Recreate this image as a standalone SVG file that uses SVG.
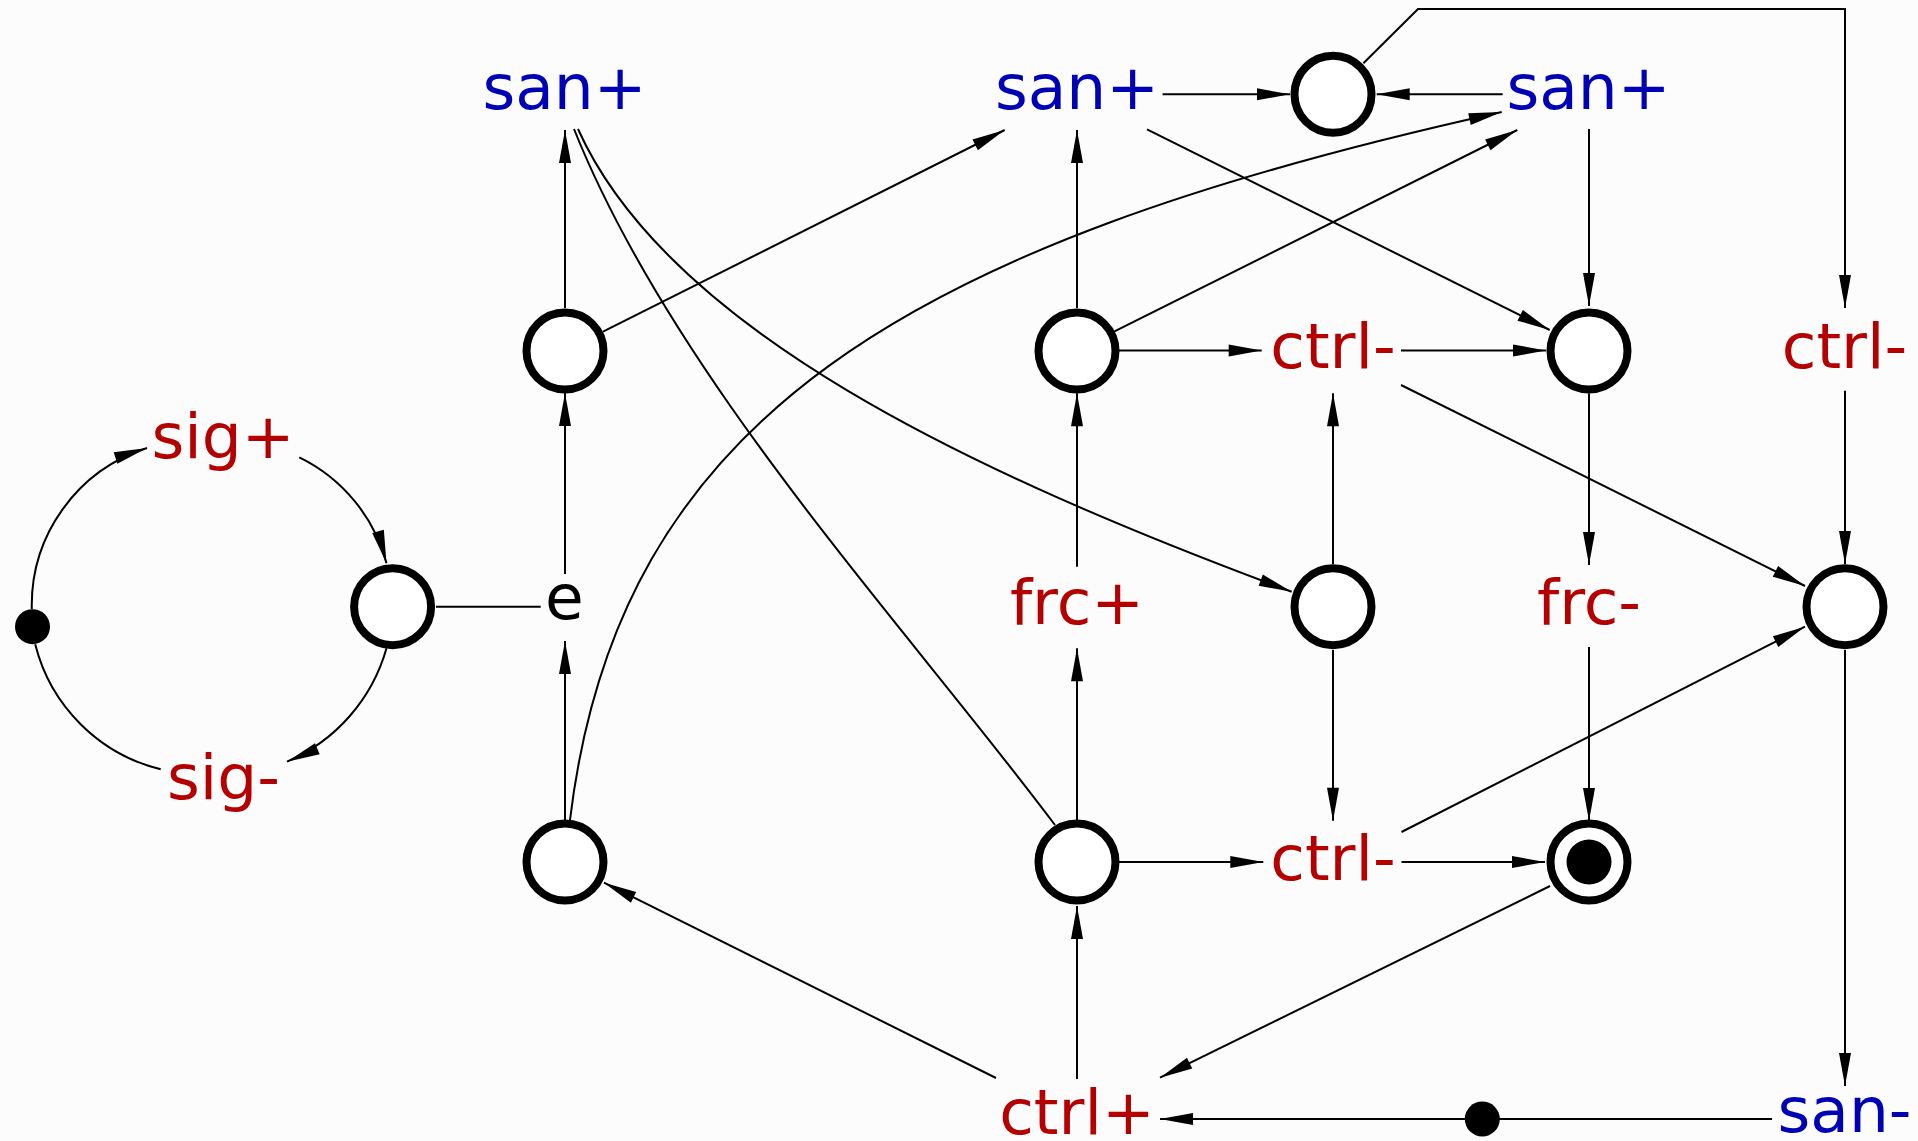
<svg xmlns="http://www.w3.org/2000/svg" width="1918" height="1141" viewBox="0 0 1918 1141">
<style>
.t{font-family:"DejaVu Sans","Liberation Sans",sans-serif;font-size:63px;text-anchor:middle}
.b{fill:#0000b4}.r{fill:#b40000}.k{fill:#000}
.n{fill:#fff;stroke:#000;stroke-width:8}
.c path,.c line,.c polyline{fill:none;stroke:#000;stroke-width:2}
.a{marker-end:url(#ah)}
</style>
<defs>
<marker id="ah" markerUnits="userSpaceOnUse" markerWidth="34" markerHeight="12" refX="33" refY="6" orient="auto" overflow="visible">
<path d="M0,0 L33,6 L0,12 Z" fill="#000"/>
</marker>
</defs>
<rect width="1918" height="1141" fill="#fcfcfc"/>
<g id="connectors" class="c">
<path class="a" d="M31.8,609 A165,165 0 0,1 147,448"/>
<path class="a" d="M299.3,457.3 A165,165 0 0,1 386.5,563.3"/>
<path class="a" d="M386.5,648.3 A175,175 0 0,1 287,761.7"/>
<path d="M160.7,769.3 A172,172 0 0,1 35.2,644.3"/>
<line x1="436" y1="606.7" x2="540.7" y2="606.7"/>
<line class="a" x1="565" y1="574" x2="565" y2="393"/>
<line class="a" x1="565" y1="820" x2="565" y2="641"/>
<line class="a" x1="565" y1="308" x2="565" y2="130"/>
<line class="a" x1="603" y1="331.7" x2="1004.7" y2="130"/>
<line class="a" x1="1077" y1="308" x2="1077" y2="130"/>
<line class="a" x1="1077" y1="566.7" x2="1077" y2="393.3"/>
<line class="a" x1="1077" y1="820" x2="1077" y2="648.3"/>
<line class="a" x1="1077" y1="1079" x2="1077" y2="906"/>
<line class="a" x1="996" y1="1078" x2="604" y2="882.7"/>
<line class="a" x1="1114" y1="331.7" x2="1517.3" y2="130"/>
<line class="a" x1="1147" y1="129.3" x2="1549.7" y2="330"/>
<line class="a" x1="1162.6" y1="94.3" x2="1290" y2="94.3"/>
<line class="a" x1="1502.7" y1="94.3" x2="1376.7" y2="94.3"/>
<polyline class="a" points="1363.4,63.3 1418,9 1845,9 1845,308"/>
<line class="a" x1="1589" y1="129" x2="1589" y2="306"/>
<line class="a" x1="1118.6" y1="350.5" x2="1261.7" y2="350.5"/>
<line class="a" x1="1401" y1="350.5" x2="1546" y2="350.5"/>
<line class="a" x1="1401" y1="385" x2="1805" y2="586"/>
<line class="a" x1="1333" y1="564" x2="1333" y2="393.3"/>
<line class="a" x1="1333" y1="650" x2="1333" y2="820.7"/>
<line class="a" x1="1589" y1="393.3" x2="1589" y2="565"/>
<line class="a" x1="1589" y1="647" x2="1589" y2="821"/>
<line class="a" x1="1845" y1="390.7" x2="1845" y2="564"/>
<line class="a" x1="1845" y1="650" x2="1845" y2="1086"/>
<line class="a" x1="1118.6" y1="862" x2="1263.3" y2="862"/>
<line class="a" x1="1401.5" y1="862" x2="1545" y2="862"/>
<line class="a" x1="1401.5" y1="832" x2="1805" y2="626.7"/>
<line class="a" x1="1550" y1="886" x2="1160" y2="1077.7"/>
<line class="a" x1="1772" y1="1119" x2="1160" y2="1119"/>
<path d="M574,129 C674,379 905,625 1055,825"/>
<path class="a" d="M578,129 C668,329 967.7,471.7 1291.7,591.7"/>
<path class="a" d="M570,820 C618,420 901.7,245 1501.7,112"/>
</g>
<g id="n-dot1"><circle cx="32.5" cy="626.7" r="17.5" fill="#000"/></g>
<g id="n-c1"><circle class="n" cx="392.6" cy="606.7" r="38.5"/></g>
<g id="n-c2"><circle class="n" cx="565" cy="351" r="38.5"/></g>
<g id="n-c3"><circle class="n" cx="565" cy="862" r="38.5"/></g>
<g id="n-c4"><circle class="n" cx="1077" cy="351" r="38.5"/></g>
<g id="n-c5"><circle class="n" cx="1077" cy="862" r="38.5"/></g>
<g id="n-c6"><circle class="n" cx="1333" cy="94.3" r="38.5"/></g>
<g id="n-c7"><circle class="n" cx="1333" cy="606.7" r="38.5"/></g>
<g id="n-c8"><circle class="n" cx="1589" cy="351" r="38.5"/></g>
<g id="n-c9"><circle class="n" cx="1589" cy="862" r="38.5"/><circle cx="1589" cy="862" r="22.5" fill="#000"/></g>
<g id="n-c10"><circle class="n" cx="1845" cy="606.7" r="38.5"/></g>
<g id="n-dot2"><circle cx="1482.3" cy="1119" r="17.5" fill="#000"/></g>
<g id="l-sigp"><text class="t r" x="223" y="458">sig+</text></g>
<g id="l-sigm"><text class="t r" x="223.5" y="799">sig-</text></g>
<g id="l-e"><text class="t k" x="564.5" y="619">e</text></g>
<g id="l-san1"><text class="t b" x="564.5" y="109">san+</text></g>
<g id="l-san2"><text class="t b" x="1077" y="109">san+</text></g>
<g id="l-san3"><text class="t b" x="1588.5" y="109">san+</text></g>
<g id="l-ctrl1"><text class="t r" x="1333" y="368">ctrl-</text></g>
<g id="l-ctrl2"><text class="t r" x="1844.5" y="368">ctrl-</text></g>
<g id="l-frcp"><text class="t r" x="1077" y="624">frc+</text></g>
<g id="l-frcm"><text class="t r" x="1589" y="624">frc-</text></g>
<g id="l-ctrl3"><text class="t r" x="1333" y="880">ctrl-</text></g>
<g id="l-ctrlp"><text class="t r" x="1077" y="1134">ctrl+</text></g>
<g id="l-sanm"><text class="t b" x="1844.5" y="1132">san-</text></g>
</svg>
